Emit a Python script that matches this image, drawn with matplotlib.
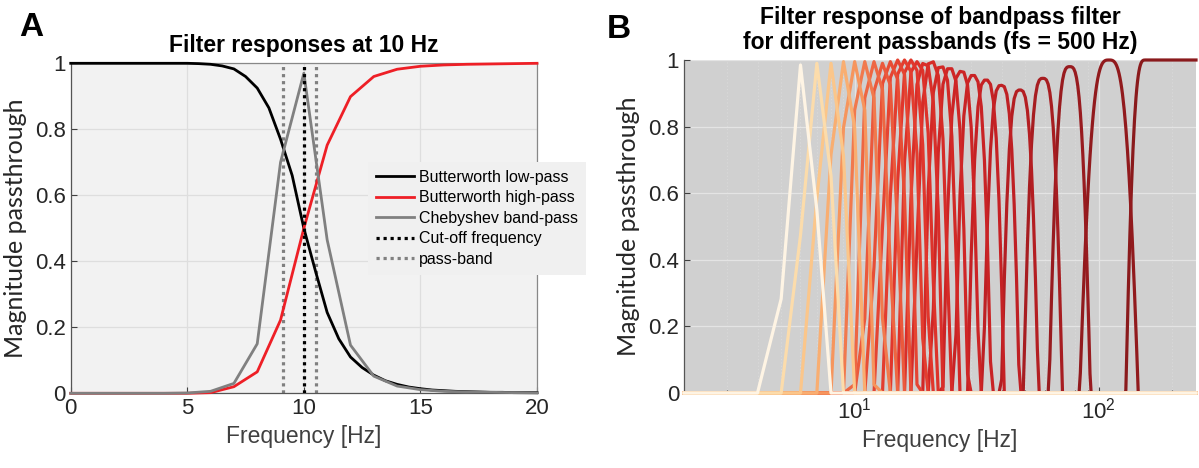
import numpy as np
import matplotlib
matplotlib.use('Agg')
import matplotlib.pyplot as plt
from matplotlib.colors import LinearSegmentedColormap
from matplotlib.ticker import FixedLocator, LogLocator, NullFormatter
from matplotlib.lines import Line2D

# ---------------- Panel A data ----------------
freq_int = np.arange(0, 21)            # Hz, integer grid
freq_half = np.arange(0, 20.5, 0.5)    # Hz, 0.5 Hz grid for the low-pass
lowpass = [1.0, 1.0, 1.0, 1.0, 1.0, 1.0, 1.0, 1.0, 1.0, 1.0, 1.0,
           0.999, 0.997, 0.992, 0.983, 0.96, 0.925, 0.865, 0.77, 0.66, 0.50,
           0.37, 0.245, 0.165, 0.11, 0.078, 0.055, 0.038, 0.027, 0.019, 0.014,
           0.010, 0.008, 0.006, 0.005, 0.004, 0.003, 0.003, 0.002, 0.002, 0.002]
highpass = [0, 0, 0, 0, 0, 0, 0.002, 0.02, 0.065, 0.222, 0.5, 0.752, 0.899,
            0.96, 0.982, 0.991, 0.995, 0.997, 0.998, 0.999, 1.0]
bandpass = [0, 0, 0, 0, 0, 0.001, 0.006, 0.03, 0.15, 0.70, 0.97, 0.465, 0.146,
            0.052, 0.022, 0.011, 0.006, 0.004, 0.003, 0.002, 0.001]
cutoff_hz = 10
passband_hz = [9.1, 10.5]
legend_labels = ["Butterworth low-pass", "Butterworth high-pass",
                 "Chebyshev band-pass", "Cut-off frequency", "pass-band"]

# ---------------- Panel B data ----------------
fs = 500
freq_b = np.arange(2, 251)   # Hz
band_centers = [6, 7, 8, 9, 10, 11, 12, 13, 14, 15, 16, 17, 18, 19.3, 20.7,
                22.6, 24.5, 27.3, 30.5, 34.5, 39.8, 47.5, 59, 76, 110]
# log10 half-width of each lobe where it reaches zero
band_spans = [0.09, 0.085, 0.08, 0.08, 0.08, 0.08, 0.08, 0.08, 0.08, 0.08,
              0.08, 0.078, 0.078, 0.076, 0.076, 0.075, 0.075, 0.075, 0.075,
              0.075, 0.075, 0.076, 0.08, 0.085, 0.12]
band_gains = [0.985, 0.99, 0.99, 0.995, 0.995, 0.995, 0.995, 0.99, 0.995, 1.0,
              1.0, 1.0, 0.995, 0.99, 0.995, 0.98, 0.975, 0.966, 0.954, 0.94,
              0.924, 0.91, 0.945, 0.98, 1.0]
top_band_full = 155        # last passband reaches full gain here, up to Nyquist
top_band_span = 0.08
lobe_flat = 1.6

# ---------------- styling ----------------
FONT = ['Liberation Sans', 'DejaVu Sans']
YFONT = ['Lato', 'DejaVu Sans']
plt.rcParams['font.family'] = FONT
TICK_COLOR = '#262626'

W, H = 1199, 468
fig = plt.figure(figsize=(W / 100, H / 100), dpi=100)

def ax_rect(l, r, t, b):
    return [l / W, 1 - b / H, (r - l) / W, (b - t) / H]

axA = fig.add_axes(ax_rect(70.7, 537, 63.3, 393.3))
axB = fig.add_axes(ax_rect(684, 1196, 60, 393))

# ---------------- Panel A ----------------
axA.set_facecolor('#f2f2f2')
axA.plot(freq_half, lowpass, color='black', lw=2.0, clip_on=False, zorder=3)
axA.plot(freq_int, highpass, color='#ee1f26', lw=2.0, clip_on=False, zorder=3)
axA.plot(freq_int, bandpass, color='#808080', lw=2.0, clip_on=False, zorder=3)
axA.axvline(cutoff_hz, color='black', lw=2.3, ls=(0, (1, 1.2)), zorder=4)
for p in passband_hz:
    axA.axvline(p, color='#808080', lw=2.3, ls=(0, (1, 1.2)), zorder=2)
axA.set_xlim(0, 20)
axA.set_ylim(0, 1)
axA.set_xticks([0, 5, 10, 15, 20])
axA.set_yticks([0, 0.2, 0.4, 0.6, 0.8, 1.0])
axA.set_yticklabels(['0', '0.2', '0.4', '0.6', '0.8', '1'])
axA.grid(True, color='#dedede', lw=0.9)
axA.set_axisbelow(True)
axA.set_title('Filter responses at 10 Hz', fontsize=16.5, fontweight='bold', pad=8)
axA.set_xlabel('Frequency [Hz]', fontsize=16.5, color='#404040', labelpad=4)
axA.set_ylabel('Magnitude passthrough', fontsize=18, family=YFONT, color='#262626', labelpad=6)

handles = [Line2D([], [], color='black', lw=2.0),
           Line2D([], [], color='#ee1f26', lw=2.0),
           Line2D([], [], color='#808080', lw=2.0),
           Line2D([], [], color='black', lw=2.3, ls=(0, (1, 1.2))),
           Line2D([], [], color='#808080', lw=2.3, ls=(0, (1, 1.2)))]
leg = axA.legend(handles, legend_labels, loc='upper left',
                 bbox_to_anchor=(360 / W, 1 - 154 / H), bbox_transform=fig.transFigure,
                 frameon=True, fancybox=False, edgecolor='none', facecolor='#f0f0f0',
                 framealpha=1, fontsize=11.5, handlelength=2.4, handletextpad=0.3,
                 labelspacing=0.34, borderpad=0.5)
leg.set_zorder(5)

# ---------------- Panel B ----------------
axB.set_facecolor('#d0d0d0')
cmap = LinearSegmentedColormap.from_list('bands', [
    (0.0, '#fef4e4'), (0.04, '#fcdcaa'), (0.09, '#fbbf80'), (0.15, '#f79a60'),
    (0.22, '#ef6c45'), (0.32, '#e84c35'), (0.45, '#e0342b'), (0.6, '#d22826'),
    (0.78, '#c42024'), (0.86, '#b01e22'), (0.92, '#981b1f'), (1.0, '#8a1a1c')])

def lobe(u):
    u = np.clip(np.abs(u), 0, 1)
    return np.cos(np.pi / 2 * u ** lobe_flat)

lf = np.log10(freq_b)
curves = []
for c, span, g in zip(band_centers, band_spans, band_gains):
    curves.append(g * lobe((lf - np.log10(c)) / span))
u_top = np.clip((np.log10(top_band_full) - lf) / top_band_span, 0, None)
curves.append(lobe(u_top))
n = len(curves)
for i in range(n - 1, -1, -1):
    axB.plot(freq_b, curves[i], color=cmap(i / (n - 1)), lw=2.3,
             clip_on=False, zorder=3)

axB.set_xscale('log')
axB.set_xlim(2, 250)
axB.set_ylim(0, 1)
axB.set_yticks([0, 0.2, 0.4, 0.6, 0.8, 1.0])
axB.set_yticklabels(['0', '0.2', '0.4', '0.6', '0.8', '1'])
axB.xaxis.set_major_locator(FixedLocator([10, 100]))
axB.xaxis.set_minor_locator(LogLocator(base=10, subs=np.arange(2, 10)))
axB.xaxis.set_minor_formatter(NullFormatter())
axB.grid(True, which='major', color='#e4e4e4', lw=0.9)
axB.grid(True, which='minor', axis='x', color='#dadada', lw=0.8, ls=(0, (1, 2)))
axB.set_axisbelow(True)
axB.set_title('Filter response of bandpass filter\nfor different passbands (fs = %d Hz)' % fs,
              fontsize=16.5, fontweight='bold', pad=8, linespacing=1.1)
axB.set_xlabel('Frequency [Hz]', fontsize=16.5, color='#404040', labelpad=4)
axB.set_ylabel('Magnitude passthrough', fontsize=18, family=YFONT, color='#262626', labelpad=6)

for ax in (axA, axB):
    ax.tick_params(axis='both', which='both', direction='in', colors='#404040',
                   labelcolor=TICK_COLOR, labelsize=16, length=4, width=0.8)
    ax.tick_params(which='minor', length=2)
    for s in ax.spines.values():
        s.set_color('#555555')
        s.set_linewidth(0.9)
axA.spines['top'].set_color('#888888')
axA.spines['right'].set_color('#888888')
axB.spines['top'].set_visible(False)
axB.spines['right'].set_visible(False)

fig.text(19 / W, 1 - 36 / H, 'A', fontsize=24, fontweight='bold')
fig.text(607 / W, 1 - 38 / H, 'B', fontsize=24, fontweight='bold')

fig.savefig('out.png', dpi=100)
